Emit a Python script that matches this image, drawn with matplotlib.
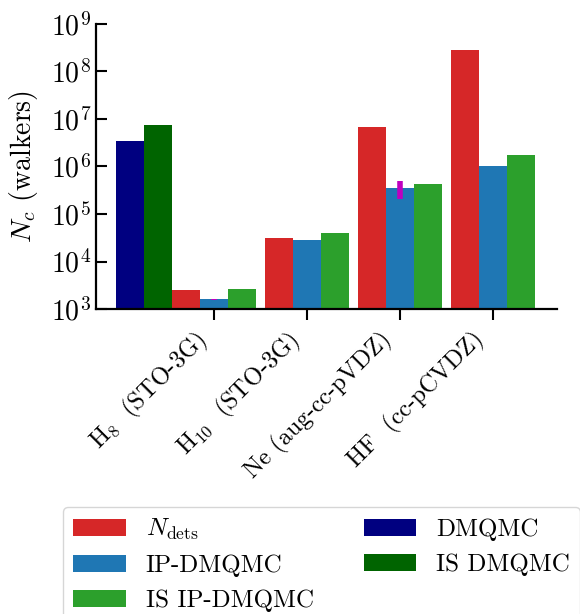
import numpy as np
import matplotlib
matplotlib.use('Agg')
import matplotlib.pyplot as plt

plt.rcParams['font.family'] = 'cmr10'
plt.rcParams['mathtext.fontset'] = 'cm'
plt.rcParams['axes.formatter.use_mathtext'] = True
plt.rcParams['font.size'] = 20

# systems on the x axis
systems = [r'H$_8$  (STO-3G)', r'H$_{10}$  (STO-3G)', 'Ne (aug-cc-pVDZ)', 'HF  (cc-pCVDZ)']

# number of determinants / walkers
n_dets = [2.5e3, 3.1e4, 6.8e6, 2.8e8]
ip_dmqmc = [1.62e3, 2.84e4, 3.5e5, 1.02e6]
ip_dmqmc_err = [40, 0, 1.4e5, 0]
is_ip_dmqmc = [2.64e3, 3.98e4, 4.27e5, 1.74e6]
is_ip_dmqmc_err = [60, 0, 0, 0]
# plain DMQMC only for H8
dmqmc = [3.44e6]
is_dmqmc = [7.5e6]

x = np.arange(len(systems))
w = 0.3

fig = plt.figure(figsize=(5.8, 6.14), dpi=100)
ax = fig.add_axes([0.1655, 0.4967, 0.7945, 0.4643])

b1 = ax.bar(x - w, n_dets, w, color='#d62728', label=r'$N_{\rm dets}$')
b2 = ax.bar(x, ip_dmqmc, w, color='#1f77b4', label='IP-DMQMC')
b3 = ax.bar(x + w, is_ip_dmqmc, w, color='#2ca02c', label='IS IP-DMQMC')
b4 = ax.bar(x[:1] - 3 * w, dmqmc, w, color='#000080', label='DMQMC')
b5 = ax.bar(x[:1] - 2 * w, is_dmqmc, w, color='#006400', label='IS DMQMC')

ax.errorbar(x, ip_dmqmc, yerr=ip_dmqmc_err, fmt='none', ecolor='m', elinewidth=4, capsize=0)
ax.errorbar(x + w, is_ip_dmqmc, yerr=is_ip_dmqmc_err, fmt='none', ecolor='m', elinewidth=4,
            capsize=0, alpha=0.4)

ax.set_yscale('log')
ax.set_ylim(1e3, 1e9)
ax.set_xlim(-1.27, 3.69)
ax.set_yticks([1e3, 1e4, 1e5, 1e6, 1e7, 1e8, 1e9])
ax.minorticks_off()
ax.set_ylabel(r'$N_c$ (walkers)', fontsize=20, labelpad=8)
ax.set_xticks(x)
ax.set_xticklabels([])
# rotated system names, nudged left of the ticks
for xi, name in zip(x, systems):
    ax.annotate(name, xy=(xi, 0), xycoords=ax.get_xaxis_transform(),
                xytext=(-15, -13), textcoords='offset points', fontsize=17.5,
                rotation=45, ha='right', va='top', rotation_mode='anchor')

ax.spines['top'].set_visible(False)
ax.spines['right'].set_visible(False)
for s in ['left', 'bottom']:
    ax.spines[s].set_linewidth(1.6)
ax.tick_params(axis='y', direction='in', length=8, width=1.5)
ax.tick_params(axis='x', direction='out', length=8, width=1.5)

fig.legend(handles=[b1, b2, b3, b4, b5], ncol=2, loc='upper left',
           bbox_to_anchor=(63 / 580, 1 - 507 / 614), borderaxespad=0, fontsize=18,
           handlelength=2.1, columnspacing=2.0)

fig.savefig('out.png', dpi=100)
